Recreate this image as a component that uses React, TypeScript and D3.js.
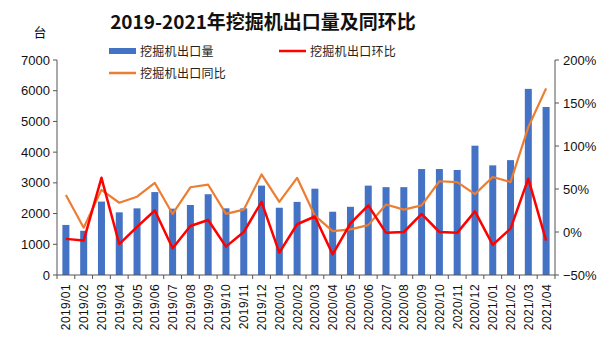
import React from "react";
import * as d3 from "d3";

const categories = ["2019/01","2019/02","2019/03","2019/04","2019/05","2019/06","2019/07","2019/08","2019/09","2019/10","2019/11","2019/12","2020/01","2020/02","2020/03","2020/04","2020/05","2020/06","2020/07","2020/08","2020/09","2020/10","2020/11","2020/12","2021/01","2021/02","2021/03","2021/04"];
const exportVolume = [1630,1440,2390,2040,2170,2700,2160,2280,2630,2170,2170,2910,2190,2380,2810,2060,2220,2910,2860,2860,3450,3450,3420,4210,3570,3740,6060,5470];
const momRate = [-8,-10,63,-14,6,25,-19,7,14,-17,0,35,-24,9,18,-26,10,31,-1,0,21,0,-1,24,-15,4,62,-10];
const yoyRate = [43,5,49,34,41,57,21,52,55,21,26,67,35,63,19,1,3,8,32,26,31,59,58,44,64,58,122,167];
const leftTicks = [0,1000,2000,3000,4000,5000,6000,7000];
const rightTicks = [-50,0,50,100,150,200];

export default function App() {
  const W = 612, H = 351;
  const left = 57, right = 555, top = 60, bottom = 275;
  const x = d3.scaleBand().domain(categories).range([left, right]);
  const yL = d3.scaleLinear().domain([0, 7000]).range([bottom, top]);
  const yR = d3.scaleLinear().domain([-50, 200]).range([bottom, top]);
  const cx = (c: string) => (x(c) as number) + x.bandwidth() / 2;
  const lineGen = d3.line<number>().x((_, i) => cx(categories[i])).y(d => yR(d));
  const font = "'Liberation Sans', Arial, sans-serif";
  const cjk = "'Noto Sans CJK SC', sans-serif";
  const barW = 7;
  const axisColor = "#555";
  return (
    <svg width={W} height={H} style={{ position: "absolute", left: 0, top: 0, background: "#fff" }}>
      <text x={263} y={29} textAnchor="middle" fontFamily={cjk} fontWeight="bold" fontSize={19} fill="#111">2019-2021年挖掘机出口量及同环比</text>
      <text x={40} y={37} textAnchor="middle" fontFamily={cjk} fontSize={13} fill="#111">台</text>
      {/* legend */}
      <rect x={109} y={48} width={27} height={6} fill="#4472C4" />
      <text x={140} y={56} fontFamily={cjk} fontSize={12} fill="#222" letterSpacing={0.3}>挖掘机出口量</text>
      <line x1={279} x2={306} y1={51} y2={51} stroke="#FF0000" strokeWidth={2.5} />
      <text x={310} y={56} fontFamily={cjk} fontSize={12} fill="#222" letterSpacing={0.3}>挖掘机出口环比</text>
      <line x1={109} x2={136} y1={73} y2={73} stroke="#ED7D31" strokeWidth={2.5} />
      <text x={140} y={78} fontFamily={cjk} fontSize={12} fill="#222" letterSpacing={0.3}>挖掘机出口同比</text>
      {/* bars */}
      {categories.map((c, i) => (
        <rect key={c} x={cx(c) - barW / 2} y={yL(exportVolume[i])} width={barW} height={bottom - yL(exportVolume[i])} fill="#4472C4" />
      ))}
      {/* lines */}
      <path d={lineGen(yoyRate) as string} fill="none" stroke="#ED7D31" strokeWidth={2.2} strokeLinejoin="round" />
      <path d={lineGen(momRate) as string} fill="none" stroke="#FF0000" strokeWidth={2.5} strokeLinejoin="round" />
      {/* left axis */}
      <line x1={left} x2={left} y1={top} y2={bottom} stroke={axisColor} strokeWidth={1} />
      {leftTicks.map(t => (
        <g key={t}>
          <line x1={left - 4} x2={left} y1={yL(t)} y2={yL(t)} stroke={axisColor} />
          <text x={left - 7} y={yL(t) + 4.5} textAnchor="end" fontFamily={font} fontSize={13} fill="#111">{t}</text>
        </g>
      ))}
      {/* right axis */}
      <line x1={right} x2={right} y1={top} y2={bottom} stroke={axisColor} strokeWidth={1} />
      {rightTicks.map(t => (
        <g key={t}>
          <line x1={right} x2={right + 4} y1={yR(t)} y2={yR(t)} stroke={axisColor} />
          <text x={right + 8} y={yR(t) + 4.5} textAnchor="start" fontFamily={font} fontSize={13} fill="#111">{t < 0 ? "−" + Math.abs(t) : t}%</text>
        </g>
      ))}
      {/* bottom axis */}
      <line x1={left} x2={right} y1={bottom} y2={bottom} stroke={axisColor} strokeWidth={1} />
      {categories.concat(["end"]).map((c, i) => {
        const xx = left + i * x.bandwidth();
        return <line key={"t" + i} x1={xx} x2={xx} y1={bottom} y2={bottom + 4} stroke={axisColor} />;
      })}
      {categories.map(c => (
        <text key={"l" + c} transform={`translate(${cx(c) + 4.5},${284}) rotate(-90)`} textAnchor="end" fontFamily={font} fontSize={12} letterSpacing={0.4} fill="#111">{c}</text>
      ))}
    </svg>
  );
}
